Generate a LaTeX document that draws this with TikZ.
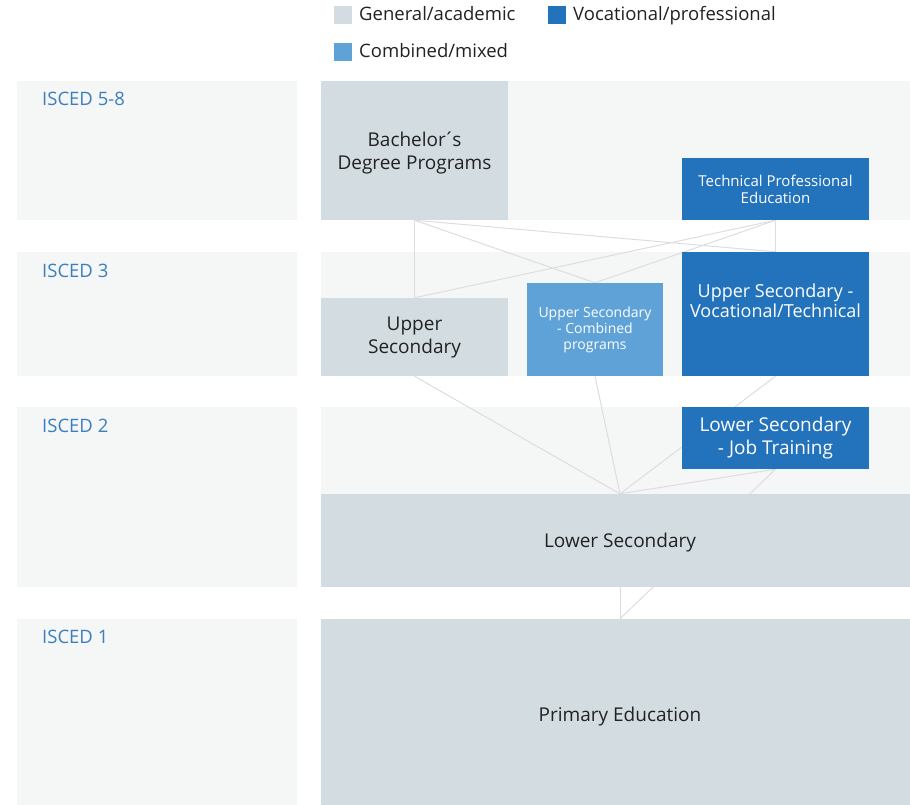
\documentclass[tikz,border=0pt]{standalone}
\usepackage{fontspec}
\setmainfont{Open Sans}
\usetikzlibrary{positioning}
\definecolor{bandgray}{HTML}{F5F7F7}
\definecolor{genfill}{HTML}{D3DDE1}
\definecolor{vocfill}{HTML}{2372BC}
\definecolor{combfill}{HTML}{5EA2D7}
\definecolor{linkgray}{HTML}{DDDDDD}
\definecolor{iscedblue}{HTML}{3C7EC0}
\definecolor{bodytext}{HTML}{222222}
\pgfdeclarelayer{bands}
\pgfdeclarelayer{links}
\pgfsetlayers{bands,links,main}

\begin{document}
\begin{tikzpicture}[x=1pt,y=-1pt,
    box/.style={rectangle,inner sep=0pt,align=center},
    genbox/.style={box,fill=genfill,text=bodytext},
    vocbox/.style={box,fill=vocfill,text=white},
    combbox/.style={box,fill=combfill,text=white},
    bigtext/.style={font=\fontsize{19}{23}\selectfont},
    smalltext/.style={font=\fontsize{15}{17}\selectfont},
    tinytext/.style={font=\fontsize{14}{16}\selectfont},
    band/.style={fill=bandgray},
    link/.style={draw=linkgray,line width=1pt},
    level/.style={anchor=base west,inner sep=0pt,text=iscedblue,font=\fontsize{18.5}{22}\selectfont},
    keybox/.style={rectangle,inner sep=0pt,minimum size=18pt},
    keytext/.style={anchor=base west,inner sep=0pt,text=bodytext,font=\fontsize{18.5}{22}\selectfont}
]
    \useasboundingbox (0,0) rectangle (910,805);
    \clip (0,0) rectangle (910,805);

    % Bands
    \begin{pgfonlayer}{bands}
    \foreach \top/\bot in {81/220,252/376,407/587,619/830} {
        \fill[band] (17,\top) rectangle (297,\bot);
        \fill[band] (321,\top) rectangle (940,\bot);
    }
    \end{pgfonlayer}

    % Legend
    \node[keybox,fill=genfill] (keygen) at (343,15) {};
    \node[keytext] (keygentext) at (359,21) {General/academic};
    \node[keybox,fill=vocfill] (keyvoc) at (557,15) {};
    \node[keytext] (keyvoctext) at (573,21) {Vocational/professional};
    \node[keybox,fill=combfill] (keycomb) at (343,52) {};
    \node[keytext] (keycombtext) at (359,58) {Combined/mixed};

    % ISCED levels
    \node[level] (isced58) at (42,106) {ISCED 5-8};
    \node[level] (isced3) at (42,277) {ISCED 3};
    \node[level] (isced2) at (42,432) {ISCED 2};
    \node[level] (isced1) at (42,643) {ISCED 1};

    % Tertiary
    \node[genbox,bigtext,text depth=0pt,minimum width=187pt,minimum height=139pt] (bach) at (414.5,150.5) {Bachelor\kern-0.12em´\kern-0.12em s\\Degree Programs};
    \node[vocbox,smalltext,minimum width=187pt,minimum height=62pt] (tech) at (775.5,189) {Technical Professional\\Education};

    % Upper secondary
    \node[genbox,bigtext,minimum width=187pt,minimum height=78pt] (usec) at (414.5,337) {Upper\\Secondary};
    \node[combbox,tinytext,minimum width=136pt,minimum height=93pt] (comb) at (595,329.5) {Upper Secondary\\- Combined\\programs};
    \node[vocbox,minimum width=187pt,minimum height=124pt] (uvoc) at (775.5,314) {};
    \node[box,text=white,font=\fontsize{18}{19.5}\selectfont] (uvoctext) at (775.5,300.5) {Upper Secondary -\\Vocational/Technical};

    % Lower secondary
    \node[vocbox,bigtext,minimum width=187pt,minimum height=62pt] (job) at (775.5,438) {Lower Secondary\\- Job Training};
    \node[genbox,bigtext,text depth=0pt,minimum width=598pt,minimum height=93pt] (lsec) at (620,540.5) {Lower Secondary};

    % Primary
    \node[genbox,bigtext,text depth=0pt,minimum width=598pt,minimum height=190pt] (prim) at (620,714) {Primary Education};

    % Links
    \begin{pgfonlayer}{links}
    \draw[link] (bach.south) -- (usec.north);
    \draw[link] (bach.south) -- (comb.north);
    \draw[link] (bach.south) -- (uvoc.north);
    \draw[link] (tech.south) -- (usec.north);
    \draw[link] (tech.south) -- (comb.north);
    \draw[link] (tech.south) -- (uvoc.north);
    \draw[link] (usec.south) -- (lsec.north);
    \draw[link] (comb.south) -- (lsec.north);
    \draw[link] (uvoc.south) -- (lsec.north);
    \draw[link] (job.south) -- (lsec.north);
    \draw[link] (lsec.south) -- (prim.north);
    \draw[link] (job.south) -- (prim.north);
    \end{pgfonlayer}
\end{tikzpicture}
\end{document}
